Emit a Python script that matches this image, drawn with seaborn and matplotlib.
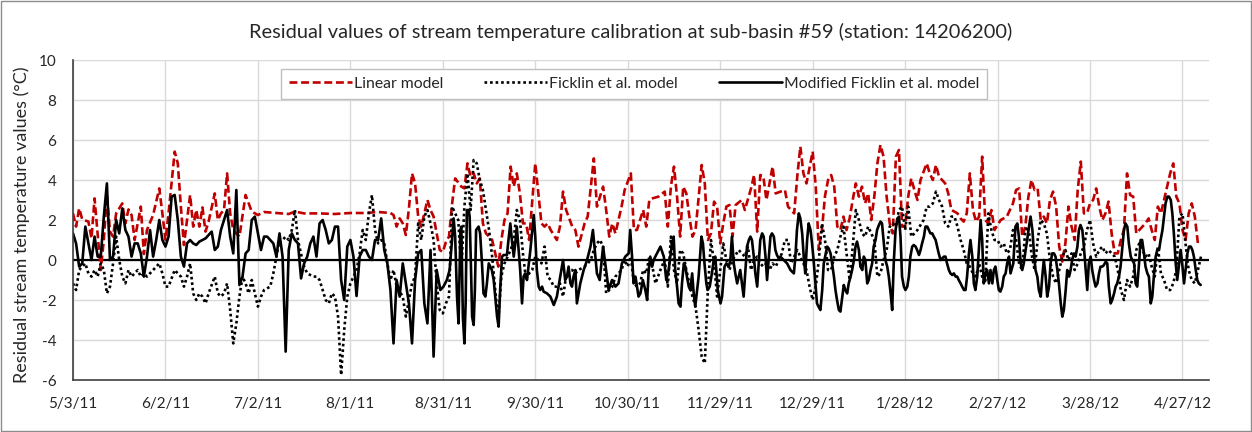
import matplotlib
matplotlib.use("Agg")
import matplotlib.pyplot as plt
from matplotlib.patches import Rectangle
import pandas as pd
import seaborn as sns

START = pd.Timestamp("2011-05-03")

# (day offset from 5/3/11, residual °C)
linear_pts = [
    (0, 2.33), (1, 1.67), (2, 2.58), (3, 2.03), (5, 1.92), (6, 1.08), (7, 3.08), (9, -0.5), (10, 1.0), (11, 3.25),
    (12, 1.42), (13, 1.17), (14, 2.33), (16, 2.83), (17, 1.83), (18, 2.53), (19, 2.25), (20, 1.0), (22, 2.67), (23, 0.3),
    (24, 1.5), (26, 2.25), (28, 3.58), (29, 2.33), (30, 1.0), (31, 2.33), (33, 5.42), (34, 4.83), (35, 2.67), (36, 0.75),
    (38, 3.25), (39, 1.67), (40, 2.5), (41, 1.67), (42, 2.63), (43, 1.42), (44, 1.92), (46, 3.33), (47, 2.0), (48, 2.33),
    (49, 2.5), (50, 4.33), (51, 2.33), (52, 1.5), (54, 1.17), (56, 3.25), (58, 2.42), (60, 2.25), (62, 2.4), (66, 2.35),
    (70, 2.3), (72, 2.42), (75, 2.33), (80, 2.33), (85, 2.3), (90, 2.35), (95, 2.35), (99, 2.4), (103, 2.35), (104, 2.25),
    (105, 1.67), (106, 2.08), (107, 1.83), (108, 1.25), (109, 2.58), (110, 4.33), (111, 3.83), (112, 2.17), (113, 1.67), (114, 2.33),
    (115, 3.0), (116, 2.5), (117, 2.17), (118, 1.33), (119, 0.5), (120, 0.4), (121, 0.9), (122, 1.17), (123, 2.8), (124, 4.08),
    (126, 3.67), (127, 3.58), (128, 4.83), (129, 4.17), (130, 4.33), (131, 3.83), (132, 4.08), (133, 1.83), (134, 1.33), (135, 1.17),
    (136, 1.0), (138, -0.33), (139, 1.0), (140, 2.0), (141, 2.33), (142, 4.67), (143, 3.67), (144, 4.33), (145, 3.33), (146, 1.83),
    (147, 1.83), (148, 1.0), (150, 4.83), (151, 3.33), (152, 1.83), (153, 1.67), (154, 1.83), (155, 1.5), (157, 1.0), (158, 1.67),
    (159, 3.42), (160, 2.5), (161, 2.08), (162, 1.67), (163, 1.5), (164, 0.67), (166, 1.83), (167, 2.17), (169, 5.08), (170, 2.67),
    (171, 3.17), (172, 3.67), (173, 2.5), (174, 1.17), (175, 1.83), (176, 1.33), (178, 2.67), (179, 3.5), (181, 4.33), (182, 1.5),
    (183, 1.5), (184, 2.0), (185, 2.5), (186, 1.67), (187, 3.0), (188, 3.08), (190, 3.17), (192, 3.42), (193, 1.67), (194, 3.67),
    (195, 4.67), (196, 3.17), (197, 1.17), (198, 3.67), (199, 3.33), (200, 2.17), (201, 1.17), (202, 1.5), (204, 4.75), (205, 3.83),
    (206, 1.0), (207, 1.33), (208, 2.92), (209, 2.67), (210, 0.83), (211, 1.83), (212, 2.67), (213, 2.75), (214, 1.17), (215, 2.75),
    (217, 3.0), (218, 2.5), (220, 3.58), (221, 4.25), (222, 1.42), (223, 4.25), (224, 4.17), (225, 3.0), (226, 3.83), (227, 4.67),
    (228, 3.33), (231, 3.5), (232, 2.67), (234, 2.33), (235, 4.17), (236, 5.67), (237, 4.33), (238, 3.83), (240, 5.42), (241, 3.67),
    (242, 0.5), (243, 1.5), (244, 3.2), (245, 4.0), (246, 4.25), (247, 3.67), (248, 1.67), (249, 1.5), (250, 2.17), (251, 1.5),
    (252, 2.08), (253, 3.0), (254, 3.83), (255, 3.17), (256, 3.67), (257, 2.83), (258, 3.33), (259, 2.0), (260, 3.17), (261, 4.83),
    (262, 5.75), (263, 5.17), (264, 3.17), (265, 1.83), (266, 1.33), (267, 5.17), (268, 5.5), (269, 1.67), (270, 1.67), (271, 3.17),
    (272, 4.08), (273, 3.5), (274, 3.0), (275, 4.0), (277, 4.83), (278, 4.33), (279, 4.0), (280, 4.75), (281, 4.17), (283, 3.83),
    (284, 3.33), (285, 2.5), (286, 2.42), (287, 2.33), (288, 2.08), (289, 1.92), (290, 2.33), (291, 4.33), (292, 2.5), (293, 1.92),
    (294, 2.17), (295, 5.17), (296, 2.0), (297, 1.83), (298, 2.5), (299, 1.5), (301, 2.0), (303, 2.17), (305, 2.83), (306, 3.5),
    (307, 3.58), (308, 1.17), (309, 1.67), (310, 3.17), (311, 4.0), (312, 3.5), (313, 3.58), (314, 2.0), (315, 2.17), (316, 1.83),
    (317, 3.0), (318, 3.42), (319, 2.67), (320, 0.67), (321, -0.08), (322, 0.83), (323, 2.67), (324, 1.67), (325, 1.0), (326, 3.5),
    (327, 4.92), (328, 2.33), (329, 2.33), (330, 2.83), (331, 3.0), (332, 3.58), (333, 2.67), (334, 2.0), (335, 2.33), (336, 2.92),
    (337, 1.33), (338, 0.33), (339, 0.33), (340, 1.0), (341, 1.5), (342, 4.33), (343, 3.25), (344, 3.17), (345, 1.33), (346, 1.5),
    (347, 1.67), (348, 1.83), (349, 2.08), (350, 1.5), (351, 1.0), (352, 2.67), (353, 2.33), (354, 3.0), (355, 3.67), (356, 4.33),
    (357, 4.83), (358, 3.17), (359, 2.83), (360, 1.5), (361, 1.0), (362, 2.33), (363, 2.83), (364, 2.17), (365, 0.83), (366, 0.83),
]

ficklin_pts = [
    (0, -1.17), (1, -1.5), (2, -0.5), (3, -0.33), (4, -0.17), (5, -0.67), (6, -0.83), (7, -0.5), (8, -0.83), (9, -0.17),
    (10, -0.5), (11, -1.67), (12, -1.33), (13, -0.17), (14, 1.17), (15, 0.0), (16, -0.83), (17, -1.17), (18, -0.5), (19, -0.83),
    (21, -0.5), (22, -0.83), (23, -0.67), (24, -0.83), (26, -0.5), (28, -0.17), (29, -0.67), (30, -1.33), (31, -1.33), (33, -0.5),
    (34, -0.67), (35, -0.83), (36, -1.33), (37, -0.83), (38, -0.17), (39, -1.67), (40, -2.0), (41, -1.67), (42, -1.83), (43, -2.17),
    (44, -1.67), (46, -0.83), (47, -1.67), (48, -1.83), (49, -1.67), (50, -1.17), (51, -2.5), (52, -4.17), (53, -3.17), (54, -1.83),
    (55, -0.83), (56, -1.17), (57, -1.67), (58, -1.0), (59, -1.67), (60, -2.33), (61, -1.83), (62, -1.5), (64, -1.33), (65, -0.67),
    (66, 0.17), (67, 1.0), (68, 1.0), (69, 1.17), (70, 1.0), (71, 1.5), (72, 2.5), (73, 1.0), (74, 0.3), (75, -0.33),
    (76, -0.67), (78, -0.83), (79, -0.83), (80, -1.0), (81, -1.5), (82, -2.0), (83, -2.17), (84, -1.67), (85, -1.83), (86, -2.83),
    (87, -5.75), (88, -3.5), (89, -1.83), (90, -1.17), (91, -0.83), (92, -0.5), (93, 0.33), (94, 1.5), (95, 1.0), (96, 2.33),
    (97, 3.25), (98, 1.5), (99, 0.83), (100, 1.0), (101, 0.83), (102, -0.17), (103, -1.0), (104, -0.5), (105, -1.33), (107, -1.83),
    (108, -2.83), (109, -2.0), (110, -1.17), (111, -0.83), (112, 1.83), (113, 1.0), (114, 2.17), (115, 2.5), (116, 1.83), (117, 1.0),
    (118, -1.17), (119, -2.5), (120, -2.67), (121, -2.17), (122, -1.83), (123, 2.67), (125, 2.0), (126, -0.5), (127, 2.67), (128, 4.33),
    (129, 2.5), (130, 5.0), (131, 4.83), (132, 4.0), (133, 3.5), (134, 2.5), (135, 1.5), (136, 0.17), (137, -1.5), (138, -3.0),
    (139, -0.8), (140, -0.17), (141, 0.17), (142, 0.5), (143, 1.0), (144, 2.5), (145, 2.0), (146, 0.33), (147, -1.0), (148, -0.67),
    (149, -0.5), (150, 0.17), (152, -0.17), (153, 0.67), (154, -0.83), (155, -1.0), (156, -1.33), (157, -1.33), (158, -1.17), (159, -1.83),
    (160, -0.83), (161, -0.5), (162, -0.5), (163, -0.67), (164, -0.5), (166, -0.33), (167, -0.17), (168, 0.0), (169, 0.5), (170, 0.83),
    (171, 1.0), (172, 0.67), (173, -1.67), (174, -1.5), (175, -1.33), (176, -0.83), (178, -0.5), (179, 0.0), (180, -0.33), (181, 0.17),
    (182, -1.17), (183, -1.33), (184, -1.17), (185, -0.5), (186, -0.67), (187, 0.17), (188, -0.33), (189, -1.17), (191, -0.33), (192, 0.0),
    (193, -1.33), (194, 1.17), (195, -0.5), (196, -1.17), (197, 0.5), (198, 0.33), (199, -0.5), (200, -1.17), (201, -1.83), (202, -2.33),
    (203, -3.5), (204, -4.83), (205, -5.17), (206, -1.5), (207, 1.0), (208, -0.17), (209, -1.83), (210, -0.5), (211, 0.83), (212, 0.0),
    (213, -0.5), (214, 0.0), (216, 0.5), (218, 0.17), (219, 0.67), (220, -0.5), (221, 0.0), (222, 0.17), (223, -0.17), (224, -0.33),
    (225, -0.17), (226, -0.5), (227, -0.17), (228, -0.33), (230, 0.33), (231, 1.0), (232, 1.0), (233, -0.17), (234, 0.17), (235, 0.5),
    (236, 0.17), (237, -0.17), (238, -0.5), (239, -1.33), (240, -2.0), (241, -1.33), (242, 0.0), (243, 1.83), (244, 1.0), (245, -0.5),
    (246, -0.5), (247, 0.17), (248, 0.5), (249, 1.17), (250, 1.67), (251, 0.33), (252, -1.0), (253, 0.67), (254, 2.5), (255, 2.0),
    (256, 1.33), (257, 1.17), (258, 1.67), (260, 1.0), (261, -0.83), (262, -0.67), (263, 0.0), (264, 0.5), (265, 1.67), (266, 1.83),
    (267, 1.67), (268, 2.5), (269, 2.67), (270, 1.5), (271, 2.67), (272, 1.17), (273, 1.33), (274, 1.5), (276, 2.0), (277, 2.67),
    (278, 2.67), (279, 2.83), (280, 3.42), (281, 3.0), (282, 2.67), (283, 1.83), (284, 1.67), (285, 2.17), (286, 2.17), (287, 1.67),
    (288, 1.0), (289, 0.5), (290, -0.17), (291, -0.33), (292, -0.67), (293, -0.83), (294, -0.17), (295, -0.83), (296, -1.17), (297, 2.33),
    (298, 1.5), (299, 1.0), (300, 1.0), (301, 0.67), (302, 0.83), (303, 0.33), (304, 0.5), (305, 1.5), (306, 1.0), (307, -0.2),
    (308, -0.5), (309, 1.5), (310, 1.67), (311, 0.33), (312, -0.5), (313, 1.0), (314, 2.0), (315, 1.83), (316, 1.33), (317, 0.0),
    (318, -0.83), (319, -1.17), (320, -0.5), (321, 0.17), (322, 0.5), (323, 0.0), (324, 0.33), (325, -0.5), (326, -0.17), (327, 0.33),
    (328, 0.67), (329, 1.5), (330, 2.0), (331, 0.83), (332, 0.17), (333, 0.5), (334, 0.67), (335, 0.33), (336, 0.5), (337, 0.33),
    (338, 0.17), (339, -0.5), (340, -1.5), (341, -2.0), (342, -1.0), (343, -1.33), (344, -0.83), (345, 0.5), (346, 0.83), (347, 0.5),
    (348, 0.17), (349, 0.33), (350, -0.33), (351, -0.83), (352, 0.67), (353, -0.67), (354, -1.0), (355, -1.5), (356, -1.5), (357, -1.17),
    (358, -0.5), (359, 2.17), (360, 2.33), (361, 0.8), (362, -0.5), (363, -1.0), (364, -1.17), (365, -0.5), (366, 0.17),
]

modified_pts = [
    (0, 1.33), (1, 0.83), (2, -0.33), (3, -0.17), (4, 1.67), (5, 0.83), (6, 0.0), (7, 1.17), (8, 0.17), (9, 0.17),
    (10, 2.17), (11, 3.83), (12, 0.0), (13, 0.17), (14, 2.0), (15, 1.33), (16, 2.58), (17, 1.5), (18, 1.17), (19, 0.17),
    (20, 0.83), (21, 0.83), (22, 0.33), (23, -0.83), (24, 0.17), (25, 1.5), (26, 0.17), (27, 1.0), (28, 2.0), (29, 1.0),
    (30, 0.67), (31, 1.17), (32, 3.17), (33, 3.25), (34, 2.0), (35, 0.17), (36, -0.33), (37, 0.83), (38, 1.0), (39, 0.83),
    (40, 0.75), (41, 0.92), (42, 1.0), (43, 1.08), (45, 1.42), (46, 0.5), (47, 0.67), (48, 1.5), (50, 2.5), (51, 1.17),
    (52, 0.33), (53, 3.5), (54, -1.25), (55, -0.83), (56, 0.33), (57, 0.5), (58, 2.0), (59, 2.17), (60, 1.33), (61, 0.5),
    (62, 1.17), (63, 1.17), (64, 1.0), (65, 0.83), (66, 0.17), (67, 1.33), (68, 0.17), (69, -4.58), (70, 0.5), (71, 1.33),
    (72, 1.0), (73, 0.83), (74, -0.92), (75, -0.17), (76, 0.17), (77, 0.83), (78, 1.17), (79, 0.17), (80, 1.83), (81, 2.0),
    (82, 1.5), (83, 0.83), (84, 1.0), (85, 1.67), (86, 1.67), (87, -1.0), (88, -2.0), (89, 0.67), (90, 1.0), (91, 0.17),
    (92, -1.8), (93, 0.17), (94, 0.5), (95, 0.5), (96, 0.17), (97, 0.0), (98, 1.0), (99, 1.0), (100, 2.08), (101, 0.5),
    (102, -0.17), (103, -1.5), (104, -4.17), (105, -1.0), (106, -1.83), (107, -0.17), (108, -1.17), (109, -2.17), (110, -4.17), (111, -1.0),
    (112, 0.33), (113, 0.5), (114, -2.17), (115, -3.17), (116, 0.5), (117, -4.83), (118, -0.5),
    (119.2, -1.5), (120.2, -1.33), (121.3, -1.0), (122.2, -0.5), (122.9, 0.83), (123.5, 2.08), (124.0, 1.17), (124.6, -1.83),
    (125.1, -3.17), (125.7, 1.5), (126.0, 1.67), (126.5, -2.83), (127.0, -4.17), (127.4, -2.17), (127.8, 2.5), (128.4, 2.5),
    (128.7, 2.17), (129.1, -0.17), (129.5, -2.83), (130.0, -3.25), (130.4, -1.5), (130.8, 1.5), (131.6, 1.67), (132.1, 1.33),
    (132.7, -0.17), (133.2, -1.67), (133.8, -1.83), (134.3, -1.17), (134.9, -0.17), (135.4, -0.33), (135.9, -0.5), (136.5, -1.0),
    (137.0, -1.83), (137.6, -2.83), (138.1, -3.33), (138.6, -1.5), (139.2, 0.17), (139.7, 0.25), (140.8, 0.25), (141.3, 1.0),
    (141.9, 1.83), (142.4, 1.0), (143.0, 0.17), (143.5, 0.83), (144.0, 1.67), (144.6, 0.5), (145.1, -0.5), (145.7, -2.17),
    (146.2, -0.83), (146.7, -0.67), (147.3, -1.0), (147.8, -0.33), (148.4, 0.5), (149.5, 2.25), (150.0, 1.17), (150.5, -0.5),
    (151.1, -1.33), (151.6, -1.5), (152.2, -1.33), (152.7, -1.58), (153.8, -1.67), (154.9, -1.83), (156.0, -2.25), (157.0, -1.83),
    (158.1, -0.83), (159.0, 0.0), (159.7, -1.0), (160.3, -0.83), (160.8, -0.33), (161.4, -1.17), (161.9, -1.33), (162.4, -0.83),
    (163.0, -0.5), (163.5, -2.17), (164.6, -1.17), (165.7, -0.5), (166.8, 0.0), (167.9, 0.67), (168.7, 1.5), (169.5, 0.17),
    (170.0, -0.67), (170.9, -1.0), (172.0, 0.67), (172.7, -0.17), (173.8, -1.5), (174.9, -1.0), (176.0, -1.33), (177.0, -1.17),
    (178.1, -0.17), (179.2, 0.17), (180.3, 0.33), (180.8, 1.5), (181.4, 0.17), (181.9, -1.17), (182.5, -0.83), (183.0, -1.33),
    (183.5, -1.83), (184.1, -1.67), (184.9, -1.0), (185.7, -1.5), (186.3, -2.0), (186.8, -0.5), (187.3, 0.17), (187.9, -0.33),
    (188.4, 0.0), (189.5, 0.33), (190.6, 0.67), (191.7, 0.17), (192.5, -1.0), (193.3, -0.5), (193.8, 0.17), (194.4, 0.83),
    (194.9, 1.17), (195.4, -0.5), (196.0, -1.33), (196.5, -2.17), (197.1, -2.33), (197.6, -1.17), (198.2, -0.17), (198.7, -0.33),
    (199.2, -0.83), (199.8, -1.33), (200.3, -1.5), (200.9, -0.67), (201.4, -1.67), (201.9, -2.33), (202.5, -1.5), (203.0, -0.83),
    (203.6, 0.5), (203.9, 1.17), (204.4, 0.83), (204.9, -0.17), (205.5, -1.17), (205.9, -1.5), (206.6, -1.33), (207.3, -0.67),
    (207.9, 0.0), (208.4, 0.17), (209.2, -1.5), (210.1, -2.17), (210.6, -1.83), (211.4, -0.33), (212.0, -0.17), (212.8, -0.33),
    (213.3, 0.0), (213.8, 1.17), (214.4, -0.17), (214.9, -0.67), (215.5, -1.17), (216.5, -0.5), (217.6, -1.83), (218.2, -0.5),
    (218.7, 0.67), (219.3, 1.0), (219.8, 1.17), (220.3, 1.0), (220.9, 0.17), (221.4, -0.67), (222.0, -1.33), (222.5, -0.17),
    (223.0, 1.0), (223.6, 1.33), (224.1, 1.17), (224.7, 0.17), (225.2, -1.0), (225.7, 0.0), (226.3, 1.17), (226.8, 1.33),
    (227.4, 1.17), (227.9, 0.5), (228.4, 0.25), (229.0, 0.08), (229.5, 0.17), (230.6, 0.0), (231.7, -0.17), (232.8, -0.5),
    (233.9, -0.67), (234.4, 0.17), (234.9, 1.5), (235.5, 2.33), (236.0, 2.08), (236.6, 1.33), (237.1, 0.17), (237.6, -0.67),
    (238.2, 1.0), (238.7, 1.83), (239.3, 1.5), (239.8, 0.83), (240.3, 0.0), (240.9, -1.17), (241.4, -2.17), (241.9, -2.33),
    (242.5, -2.5), (243.1, -1.5), (243.6, -0.17), (244.7, 0.67), (245.2, 0.58), (245.8, 0.33), (246.3, -0.17), (246.9, -0.83),
    (247.4, -1.5), (247.9, -2.0), (248.5, -2.5), (249.0, -2.58), (249.6, -1.83), (250.1, -1.25), (250.6, -1.5), (251.2, -1.67),
    (251.7, -1.17), (252.3, -0.83), (252.8, -0.5), (253.4, 0.0), (253.9, 0.67), (254.4, 0.92), (255.0, 0.5), (255.5, -0.33),
    (256.1, -0.5), (256.6, 0.17), (257.1, 0.0), (257.7, -1.17), (258.2, -1.0), (258.8, -0.5), (259.3, -0.17), (259.8, 0.67),
    (260.4, 1.0), (260.9, 1.5), (261.5, 1.75), (262.0, 1.92), (262.5, 1.83), (263.1, 0.83), (263.6, 0.0), (264.2, -0.33),
    (264.7, -0.83), (265.3, -1.67), (265.8, -2.5), (266.3, -0.17), (266.9, 1.5), (267.4, 2.0), (268.0, 2.17), (268.5, 1.17),
    (269.0, -0.83), (269.6, -1.33), (270.1, -1.5), (270.7, -1.33), (271.2, -0.83), (271.7, 0.17), (272.3, 0.67), (272.8, 0.75),
    (273.4, 0.67), (273.9, 0.5), (274.5, 0.25), (275.0, 0.5), (275.5, 0.83), (276.1, 1.17), (276.6, 1.67), (277.2, 1.67),
    (277.7, 1.5), (278.2, 1.33), (278.8, 1.33), (279.3, 1.17), (279.9, 1.0), (280.4, 0.67), (280.9, 0.33), (281.5, 0.0),
    (282.0, 0.08), (282.6, 0.17), (283.1, 0.17), (283.6, -0.17), (284.2, -0.5), (284.7, -0.67), (285.3, -0.75), (285.8, -0.67),
    (286.4, -0.83), (286.9, -0.83), (287.4, -1.0), (288.0, -1.17), (288.5, -1.33), (289.1, -1.5), (289.6, -1.5), (290.1, -0.83),
    (290.7, 0.33), (291.2, 1.0), (291.8, 0.17), (292.3, -1.17), (292.8, -1.5), (293.4, -0.83), (293.9, 0.5), (294.5, 2.0),
    (295.0, 1.0), (295.5, -1.17), (296.1, -0.67), (296.6, -0.5), (297.2, -1.17), (297.7, -0.5), (298.3, -1.17), (298.8, -0.5),
    (299.3, -0.33), (299.9, -1.0), (300.4, -1.5), (300.9, -1.58), (301.5, -1.33), (302.0, -0.83), (302.6, -0.67), (303.1, -0.17),
    (303.7, 0.17), (304.2, -0.67), (305.1, -0.17), (305.8, 1.67), (306.4, 1.83), (306.9, 1.17), (307.5, -0.17), (308.0, -0.5),
    (308.5, -0.17), (309.1, 0.5), (309.6, 1.0), (310.2, 1.67), (310.7, 2.17), (311.3, 1.5), (311.8, 0.33), (312.3, -0.5),
    (312.9, -0.83), (313.4, -1.5), (314.0, -1.83), (314.5, -0.83), (315.0, 0.0), (315.6, -0.83), (316.1, -1.83), (316.7, -1.33),
    (317.2, -0.17), (317.7, 0.33), (318.3, 0.33), (318.8, 0.17), (319.4, -0.5), (319.9, -1.17), (320.5, -2.17), (321.0, -2.83),
    (321.5, -2.5), (322.1, -1.5), (322.6, -0.5), (323.2, -0.83), (323.7, -0.5), (324.2, 0.0), (324.8, 0.33), (325.3, 0.17),
    (325.9, 0.67), (326.4, 1.5), (326.9, 1.75), (327.5, 1.5), (328.0, 0.67), (328.6, -0.5), (329.1, -1.5), (329.6, -0.17),
    (330.2, 0.17), (330.7, -0.5), (331.3, -1.0), (331.8, -1.33), (332.4, -1.17), (332.9, -0.67), (333.4, -0.33), (334.0, -0.33),
    (334.5, -0.25), (335.1, -0.08), (335.6, -0.17), (336.1, -1.33), (336.7, -2.17), (337.2, -2.0), (337.8, -1.67), (338.3, -1.33),
    (338.8, -1.17), (339.4, -0.83), (339.9, -0.33), (340.5, 0.67), (341.0, 1.5), (341.5, 1.83), (342.1, 1.67), (342.6, 0.83),
    (343.2, 0.17), (343.7, 0.0), (344.3, -0.17), (344.8, -1.17), (345.3, -1.33), (345.9, -0.17), (346.4, 1.0), (346.9, 1.0),
    (347.5, 0.33), (348.0, -0.33), (348.6, -0.67), (349.1, -0.83), (349.7, -2.17), (350.2, -1.83), (350.7, -0.83), (351.3, 0.17),
    (351.8, 0.5), (352.4, 0.5), (352.9, 1.0), (353.5, 1.5), (354.0, 2.17), (354.5, 2.83), (355.1, 3.17), (355.6, 3.17),
    (356.2, 3.0), (356.7, 2.33), (357.2, 1.33), (357.8, -0.17), (358.3, -1.0), (358.9, -0.17), (359.4, 0.5), (359.9, -0.17),
    (360.5, -1.17), (361.0, -0.5), (361.6, 0.33), (362.1, 0.67), (362.7, 0.67), (363.2, 0.5), (363.7, 0.17), (364.3, -0.5),
    (364.8, -1.0), (365.3, -1.17), (365.9, -1.25),
]

series_names = ["Linear model", "Ficklin et al. model", "Modified Ficklin et al. model"]
tick_days = [0, 30, 60, 90, 120, 150, 180, 210, 240, 270, 300, 330, 360]
tick_labels = ["5/3/11", "6/2/11", "7/2/11", "8/1/11", "8/31/11", "9/30/11", "10/30/11",
               "11/29/11", "12/29/11", "1/28/12", "2/27/12", "3/28/12", "4/27/12"]


def to_frame(points, name):
    days, vals = zip(*points)
    return pd.DataFrame({
        "date": START + pd.to_timedelta(list(days), unit="D"),
        "residual": vals,
        "model": name,
    })


df = pd.concat([to_frame(p, n) for p, n in zip([linear_pts, ficklin_pts, modified_pts], series_names)],
               ignore_index=True)

sns.set_theme(style="white")
plt.rcParams["font.family"] = ["Lato", "DejaVu Sans"]
plt.rcParams["axes.unicode_minus"] = False

W, H = 1252, 432
fig = plt.figure(figsize=(W / 100, H / 100), dpi=100)
ax = fig.add_axes([73 / W, 52 / H, 1136 / W, 320 / H])
ax.set_axisbelow(True)
ax.grid(True, color="#d9d9d9", linewidth=1)
ax.axhline(0, color="black", linewidth=1.6, zorder=1.5)

palette = {series_names[0]: "#c00000", series_names[1]: "black", series_names[2]: "black"}
dashes = {series_names[0]: (3.0, 1.4), series_names[1]: (1, 1.1), series_names[2]: ""}
sns.lineplot(data=df, x="date", y="residual", hue="model", style="model",
             hue_order=series_names, style_order=series_names,
             palette=palette, dashes=dashes, estimator=None, linewidth=1.9, ax=ax)

ax.set_xlim(START, START + pd.Timedelta(days=368.6))
ax.set_ylim(-6, 10)
ax.set_yticks(range(-6, 11, 2))
ax.set_xticks([START + pd.Timedelta(days=d) for d in tick_days])
ax.set_xticklabels(tick_labels)
ax.tick_params(axis="both", length=0, labelsize=11, colors="#262626")
ax.tick_params(axis="x", pad=12)
ax.tick_params(axis="y", pad=12)
ax.set_xlabel("")
ax.set_ylabel("")
for side in ["top", "right"]:
    ax.spines[side].set_visible(False)
for side in ["left", "bottom"]:
    ax.spines[side].set_color("#404040")
    ax.spines[side].set_linewidth(1.2)

handles, labels = ax.get_legend_handles_labels()
leg = ax.legend(handles, labels, ncol=3, loc="upper center", bbox_to_anchor=(0.494, 0.972),
                frameon=True, fancybox=False, edgecolor="#bfbfbf", framealpha=1,
                handlelength=4.0, columnspacing=2.6, handletextpad=0.15, fontsize=11.3,
                borderpad=0.5, borderaxespad=0.0)
leg.get_frame().set_linewidth(1)

fig.text(0.504, 0.926, "Residual values of stream temperature calibration at sub-basin #59 (station: 14206200)",
         ha="center", va="center", fontsize=14.4, color="#262626")
fig.text(0.0176, 0.479, "Residual stream temperature values (°C)", rotation=90,
         ha="center", va="center", fontsize=13, color="#262626")
fig.add_artist(Rectangle((0.0008, 0.0012), 0.9984, 0.9976, transform=fig.transFigure,
                         fill=False, edgecolor="#8c8c8c", linewidth=1))

fig.savefig("out.png", dpi=100)
